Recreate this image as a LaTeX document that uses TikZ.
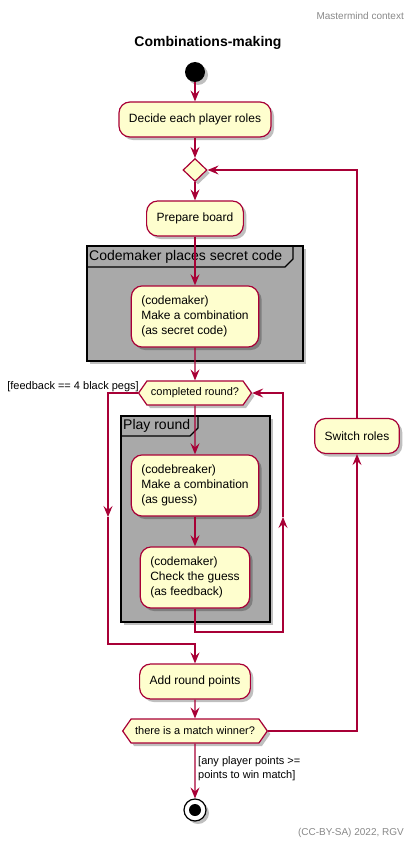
\documentclass[tikz,border=0pt]{standalone}
\usepackage{fontspec}
\setmainfont{Liberation Sans}
\usetikzlibrary{arrows.meta,shapes.geometric,shapes.symbols,shadows}
\definecolor{umlred}{HTML}{A80036}
\definecolor{umlfill}{HTML}{FEFECE}
\definecolor{umlgroup}{HTML}{A9A9A9}
\definecolor{umlgray}{HTML}{888888}
\tikzset{
  flow/.style={draw=umlred, line width=1.2pt, -{Stealth[length=11pt,width=9pt,inset=4pt]}},
  umlshadow/.style={drop shadow={shadow xshift=3pt, shadow yshift=-3pt, fill=black, opacity=.25}},
  action/.style={draw=umlred, fill=umlfill, line width=1.2pt, rounded corners=11pt, minimum height=35pt,
    inner xsep=10pt, inner ysep=10pt, font=\fontsize{12}{15}\selectfont, align=left, umlshadow},
  choice/.style={shape=signal, signal to=west and east, signal pointer angle=110, draw=umlred, fill=umlfill,
    line width=1.2pt, minimum height=24pt, inner xsep=4pt, inner ysep=2pt, font=\fontsize{11}{13}\selectfont, umlshadow},
  merge/.style={diamond, draw=umlred, fill=umlfill, line width=1.2pt, minimum width=24pt, minimum height=23pt,
    inner sep=0pt, umlshadow},
  group/.style={draw=black, fill=umlgroup, line width=1.2pt, umlshadow},
  grouplabel/.style={font=\fontsize{14}{16}\selectfont, anchor=west, inner sep=0pt},
  guard/.style={font=\fontsize{11}{14}\selectfont, align=left, inner sep=0pt},
  note/.style={font=\fontsize{10}{12}\selectfont, text=umlgray, anchor=east, inner sep=0pt}
}
\begin{document}
\begin{tikzpicture}[x=1pt,y=-1pt]
    \useasboundingbox (0,0) rectangle (416,851);

    % Header, title and footer
    \node[note] (header) at (404,16) {Mastermind context};
    \node[font=\fontsize{14}{16}\selectfont\bfseries] (title) at (208,43) {Combinations-making};
    \node[note] (footer) at (404,833) {(CC-BY-SA) 2022, RGV};

    % Groups
    \draw[group] (87,246) rectangle (303,361);
    \draw[line width=1.2pt] (87,267) -- (285,267) -- (293,259) -- (293,246);
    \node[grouplabel] (secretlbl) at (89,257) {Codemaker places secret code};

    \draw[group] (121,416) rectangle (270,622);
    \draw[line width=1.2pt] (121,436) -- (190,436) -- (198,428) -- (198,416);
    \node[grouplabel] (roundlbl) at (123,426) {Play round};

    % Activities
    \node[circle, fill=black, minimum size=20pt, inner sep=0pt, umlshadow] (start) at (195,72) {};
    \node[action] (decide) at (195,119.5) {Decide each player roles};
    \node[merge] (merge) at (195,170) {};
    \node[action] (prep) at (195,218.5) {Prepare board};
    \node[action] (secret) at (195,316.5) {(codemaker)\\Make a combination\\(as secret code)};
    \node[choice] (round) at (195,393) {completed round?};
    \node[action] (guess) at (195,485.5) {(codebreaker)\\Make a combination\\(as guess)};
    \node[action] (check) at (195,577.5) {(codemaker)\\Check the guess\\(as feedback)};
    \node[action] (add) at (195,681.5) {Add round points};
    \node[choice] (winner) at (195,731) {there is a match winner?};
    \node[action] (switch) at (357,436) {Switch roles};
    \node[circle, draw=black, fill=white, line width=1.2pt, minimum size=22pt, inner sep=0pt, umlshadow,
      path picture={\fill[black] (path picture bounding box.center) circle (6pt);}] (stop) at (195,810) {};

    % Guards
    \node[guard, anchor=east] (fullpegs) at (139,387) {[feedback == 4 black pegs]};
    \node[guard, anchor=west] (winpoints) at (198,769) {[any player points >=\\points to win match]};

    % Connectors
    \draw[flow] (start) -- (decide);
    \draw[flow] (decide) -- (merge);
    \draw[flow] (merge) -- (prep);
    \draw[flow] (prep) -- (secret);
    \draw[flow] (secret) -- (round);
    \draw[flow] (round) -- (guess);
    \draw[flow] (guess) -- (check);

    % Repeat round
    \coordinate (rbend) at (283,632);
    \coordinate (rmid) at (283,517);
    \draw[flow] (check.south) |- (rbend) -- (rmid);
    \draw[flow] (rmid) |- (round.east);

    % Leave round loop
    \coordinate (lmid) at (108,517);
    \coordinate (ljoin) at (195,644);
    \draw[flow] (round.west) -| (lmid);
    \draw[flow] (lmid) |- (ljoin) -- (add);

    \draw[flow] (add) -- (winner);
    \draw[flow] (winner.east) -| (switch);
    \draw[flow] (switch) |- (merge.east);
    \draw[flow] (winner) -- (stop);
\end{tikzpicture}
\end{document}
